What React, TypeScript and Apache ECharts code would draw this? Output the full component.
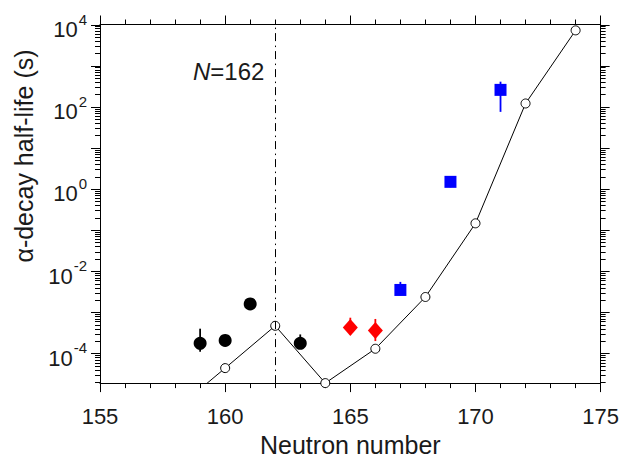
import React, { useEffect, useRef } from 'react';
import * as echarts from 'echarts';

// Axis ranges
const xMin = 155;
const xMax = 175;
const xInterval = 5;
const yMin = 1.9e-5;
const yMax = 1e4;
const shellN = 162;

// Theory (open circles joined by line)
const theoryN = [158, 160, 162, 164, 166, 168, 170, 172, 174];
const theoryT = [4.2e-6, 4.4e-5, 4.7e-4, 1.9e-5, 1.3e-4, 2.36e-3, 0.146, 120, 7200];

// Experimental: black filled circles
const blackN = [159, 160, 161, 163];
const blackT = [1.76e-4, 2.07e-4, 1.6e-3, 1.76e-4];
const blackLo = [1.1e-4, null, null, 1.3e-4];
const blackHi = [4.0e-4, null, null, 2.9e-4];

// Experimental: red diamonds
const redN = [165, 166];
const redT = [4.3e-4, 3.6e-4];
const redLo = [2.9e-4, 2.0e-4];
const redHi = [7.4e-4, 6.9e-4];

// Experimental: blue squares
const blueN = [167, 169, 171];
const blueT = [3.5e-3, 1.49, 257];
const blueLo = [2.6e-3, 1.1, 75];
const blueHi = [5.5e-3, 1.9, 407];

const FONT = "'Liberation Sans', Arial, Helvetica, sans-serif";
const TXT = '#1a1a1a';

function errData(n: number[], lo: (number | null)[], hi: (number | null)[]) {
  const out: number[][] = [];
  n.forEach((v, i) => {
    if (lo[i] != null && hi[i] != null) out.push([v, lo[i] as number, hi[i] as number]);
  });
  return out;
}

function yTickData() {
  const out: number[][] = [];
  const dLo = Math.floor(Math.log10(yMin));
  const dHi = Math.ceil(Math.log10(yMax));
  for (let d = dLo; d <= dHi; d++) {
    for (let k = 1; k <= 9; k++) {
      const v = k * Math.pow(10, d);
      if (v < yMin * 0.999 || v > yMax * 1.001) continue;
      const major = k === 1 ? 1 : 0;
      out.push([xMin, v, major, -1]);
      out.push([xMax, v, major, 1]);
    }
  }
  return out;
}

export default function App() {
  const ref = useRef<HTMLDivElement>(null);
  useEffect(() => {
    if (!ref.current) return;
    const chart = echarts.init(ref.current, undefined, { renderer: 'svg' });

    const errRender = (params: any, api: any) => {
      const p1 = api.coord([api.value(0), api.value(1)]);
      const p2 = api.coord([api.value(0), api.value(2)]);
      return {
        type: 'line',
        shape: { x1: p1[0], y1: p1[1], x2: p2[0], y2: p2[1] },
        style: { stroke: api.visual('color'), lineWidth: 1.8, opacity: 1 },
      };
    };

    const tickRender = (params: any, api: any) => {
      const p = api.coord([api.value(0), api.value(1)]);
      const len = api.value(2) ? 9 : 5;
      const side = api.value(3);
      const y = Math.round(p[1]) + 0.5;
      return {
        type: 'line',
        shape: { x1: p[0], y1: y, x2: p[0] + side * len, y2: y },
        style: { stroke: '#000', lineWidth: 1 },
      };
    };

    const xAxisBase = {
      type: 'value',
      min: xMin,
      max: xMax,
      interval: xInterval,
      splitLine: { show: false },
      axisLine: { show: true, onZero: false, lineStyle: { color: '#000', width: 1 } },
      axisTick: { show: true, inside: false, length: 9, lineStyle: { color: '#000', width: 1 } },
      minorTick: { show: true, splitNumber: 5, length: 5, lineStyle: { color: '#000', width: 1 } },
      minorSplitLine: { show: false },
    };

    const yAxisBase = {
      type: 'log',
      logBase: 10,
      min: yMin,
      max: yMax,
      splitLine: { show: false },
      axisLine: { show: true, lineStyle: { color: '#000', width: 1 } },
      axisTick: { show: false },
    };

    const option: any = {
      animation: false,
      backgroundColor: '#fff',
      grid: { left: 100, right: 21, top: 24.5, bottom: 69.5, containLabel: false },
      xAxis: [
        {
          ...xAxisBase,
          position: 'bottom',
          name: 'Neutron number',
          nameLocation: 'middle',
          nameGap: 46,
          nameTextStyle: { fontSize: 25, fontFamily: FONT, color: TXT },
          axisLabel: { show: true, margin: 22, fontSize: 22, fontFamily: FONT, color: TXT },
        },
        {
          ...xAxisBase,
          position: 'top',
          axisLabel: { show: false },
        },
      ],
      yAxis: [
        {
          ...yAxisBase,
          position: 'left',
          axisLabel: {
            show: true,
            margin: 13,
            color: TXT,
            formatter: (v: number) => {
              const e = Math.log10(v);
              const r = Math.round(e);
              if (Math.abs(e - r) > 1e-6 || r % 2 !== 0) return '';
              return `{b|10}{s|${r}}`;
            },
            rich: {
              b: { fontSize: 22, lineHeight: 32, verticalAlign: 'bottom', fontFamily: FONT, color: TXT },
              s: { fontSize: 15, verticalAlign: 'top', padding: [3, 0, 0, 1], fontFamily: FONT, color: TXT },
            },
          },
        },
        {
          ...yAxisBase,
          position: 'right',
          axisLabel: { show: false },
        },
      ],
      graphic: [
        {
          type: 'text',
          x: 24,
          y: 156,
          rotation: Math.PI / 2,
          style: {
            text: 'α-decay half-life (s)',
            fontSize: 25,
            fontFamily: FONT,
            fill: TXT,
            align: 'center',
            verticalAlign: 'middle',
          },
        },
        {
          type: 'text',
          x: 193,
          y: 71.5,
          style: {
            text: '{i|N}{r|=162}',
            rich: {
              i: { fontSize: 24, fontStyle: 'italic', fontFamily: FONT, fill: TXT },
              r: { fontSize: 24, fontFamily: FONT, fill: TXT },
            },
            fill: TXT,
            align: 'left',
            verticalAlign: 'middle',
          },
        },
      ],
      series: [
        {
          type: 'custom',
          name: 'yticks',
          renderItem: tickRender,
          data: yTickData(),
          clip: false,
          silent: true,
          z: 1,
        },
        {
          type: 'line',
          name: 'theory-line',
          data: theoryN.map((n, i) => [n, theoryT[i]]),
          symbol: 'none',
          lineStyle: { color: '#000', width: 1 },
          clip: true,
          z: 2,
          markLine: {
            silent: true,
            symbol: ['none', 'none'],
            label: { show: false },
            lineStyle: { color: '#000', width: 1, type: [8, 4, 1.5, 4.5] },
            data: [{ xAxis: shellN }],
          },
        },
        {
          type: 'scatter',
          name: 'theory-points',
          data: theoryN
            .map((n, i) => [n, theoryT[i]])
            .filter((p) => p[1] >= yMin * 0.99 && p[0] >= xMin && p[0] <= xMax),
          symbol: 'circle',
          symbolSize: 9,
          itemStyle: { color: '#fff', borderColor: '#000', borderWidth: 1, opacity: 1 },
          clip: false,
          z: 3,
        },
        {
          type: 'custom',
          name: 'black-err',
          renderItem: errRender,
          data: errData(blackN, blackLo, blackHi),
          itemStyle: { color: '#000' },
          z: 4,
        },
        {
          type: 'custom',
          name: 'red-err',
          renderItem: errRender,
          data: errData(redN, redLo, redHi),
          itemStyle: { color: '#ff0000' },
          z: 4,
        },
        {
          type: 'custom',
          name: 'blue-err',
          renderItem: errRender,
          data: errData(blueN, blueLo, blueHi),
          itemStyle: { color: '#0000ff' },
          z: 4,
        },
        {
          type: 'scatter',
          name: 'black',
          data: blackN.map((n, i) => [n, blackT[i]]),
          symbol: 'circle',
          symbolSize: 13,
          itemStyle: { color: '#000', opacity: 1 },
          z: 5,
        },
        {
          type: 'scatter',
          name: 'red',
          data: redN.map((n, i) => [n, redT[i]]),
          symbol: 'diamond',
          symbolSize: [15, 17],
          itemStyle: { color: '#ff0000', opacity: 1 },
          z: 5,
        },
        {
          type: 'scatter',
          name: 'blue',
          data: blueN.map((n, i) => [n, blueT[i]]),
          symbol: 'rect',
          symbolSize: 12,
          itemStyle: { color: '#0000ff', opacity: 1 },
          z: 5,
        },
      ],
    };

    chart.setOption(option);
    return () => chart.dispose();
  }, []);

  return (
    <div
      ref={ref}
      style={{ position: 'fixed', left: 0, top: 0, width: 622, height: 462, background: '#fff' }}
    />
  );
}
